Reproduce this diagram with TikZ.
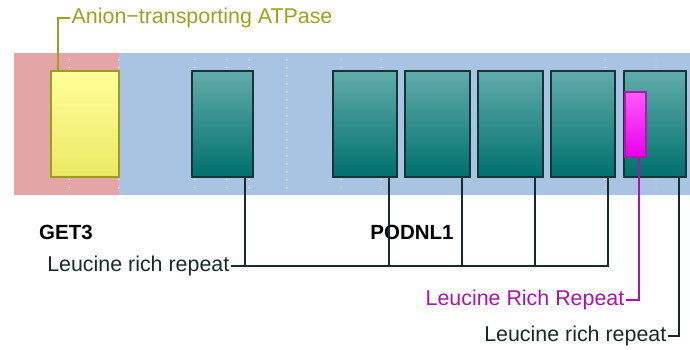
\documentclass[tikz,border=0pt]{standalone}
\usepackage{fontspec}
\setmainfont{Liberation Sans}
\definecolor{bgred}{RGB}{227,165,165}
\definecolor{bgblue}{RGB}{168,196,226}
\definecolor{tealtop}{RGB}{98,172,170}
\definecolor{tealbot}{RGB}{0,112,110}
\definecolor{tealedge}{RGB}{22,52,52}
\definecolor{yeltop}{RGB}{255,255,153}
\definecolor{yelbot}{RGB}{236,232,100}
\definecolor{yeledge}{RGB}{160,154,32}
\definecolor{magtop}{RGB}{255,90,255}
\definecolor{magbot}{RGB}{232,0,232}
\definecolor{magedge}{RGB}{165,30,165}
\definecolor{olivetext}{RGB}{160,160,32}
\definecolor{magtext}{RGB}{170,20,170}
\definecolor{darktext}{RGB}{22,44,44}
\begin{document}
\begin{tikzpicture}[x=1pt,y=-1pt,
  lbl/.style={font=\fontsize{21.4}{24}\selectfont, inner sep=1.5pt},
  boldlbl/.style={font=\fontsize{20.5}{24}\selectfont\bfseries, inner sep=0pt, text=black},
  tealbox/.style={draw=tealedge, line width=1.4pt, top color=tealtop, bottom color=tealbot,
    minimum height=106pt, inner sep=0pt},
  yelbox/.style={draw=yeledge, line width=1.4pt, top color=yeltop, bottom color=yelbot,
    minimum height=106pt, inner sep=0pt},
  magbox/.style={draw=magedge, line width=1.4pt, top color=magtop, bottom color=magbot,
    minimum width=21pt, minimum height=65pt, inner sep=0pt},
  conn/.style={draw=darktext, line width=1.4pt},
  mconn/.style={draw=magtext, line width=1.4pt},
  oconn/.style={draw=olivetext, line width=1.4pt},
  grid/.style={draw=white, line width=1.3pt, dash pattern=on 1.3pt off 6.7pt}
]
\useasboundingbox (0,0) rectangle (690,350);
% backgrounds
\fill[bgred] (14,53) rectangle (119,195);
\fill[bgblue] (119,53) rectangle (690,195);
% dotted grid lines
\foreach \gx in {69,119,195,227,249,287,341,381,605,656}
  \draw[grid] (\gx,59) -- (\gx,195);
% domains
\node[yelbox, minimum width=68pt] (yb) at (85,124) {};
\node[tealbox, minimum width=61pt] (b1) at (222.5,124) {};
\node[tealbox, minimum width=64pt] (b2) at (365,124) {};
\node[tealbox, minimum width=65pt] (b3) at (437.5,124) {};
\node[tealbox, minimum width=65pt] (b4) at (510.5,124) {};
\node[tealbox, minimum width=64pt] (b5) at (583,124) {};
\node[tealbox, minimum width=62pt] (b6) at (655,124) {};
\node[magbox] (mb) at (635.5,124.5) {};
% labels
\node[boldlbl] (get3) at (66,232) {GET3};
\node[boldlbl] (podnl1) at (412,232) {PODNL1};
\node[lbl, text=olivetext, anchor=west] (anion) at (70,18) {Anion−transporting ATPase};
\node[lbl, text=darktext, anchor=east] (lrr) at (231,266) {Leucine rich repeat};
\node[lbl, text=magtext, anchor=east] (lrr2) at (626,300) {Leucine Rich Repeat};
\node[lbl, text=darktext, anchor=east] (lrr3) at (668,336) {Leucine rich repeat};
% connectors
\draw[oconn] ([xshift=-27pt]yb.north) |- (anion.west);
\draw[conn] ([xshift=22.5pt]b1.south) |- (lrr.east);
\draw[conn] ([xshift=24pt]b2.south) |- (lrr.east);
\draw[conn] ([xshift=24.5pt]b3.south) |- (lrr.east);
\draw[conn] ([xshift=24.5pt]b4.south) |- (lrr.east);
\draw[conn] ([xshift=25pt]b5.south) |- (lrr.east);
\draw[mconn] ([xshift=3.5pt]mb.south) |- (lrr2.east);
\draw[conn] ([xshift=24pt]b6.south) |- (lrr3.east);
\end{tikzpicture}
\end{document}
